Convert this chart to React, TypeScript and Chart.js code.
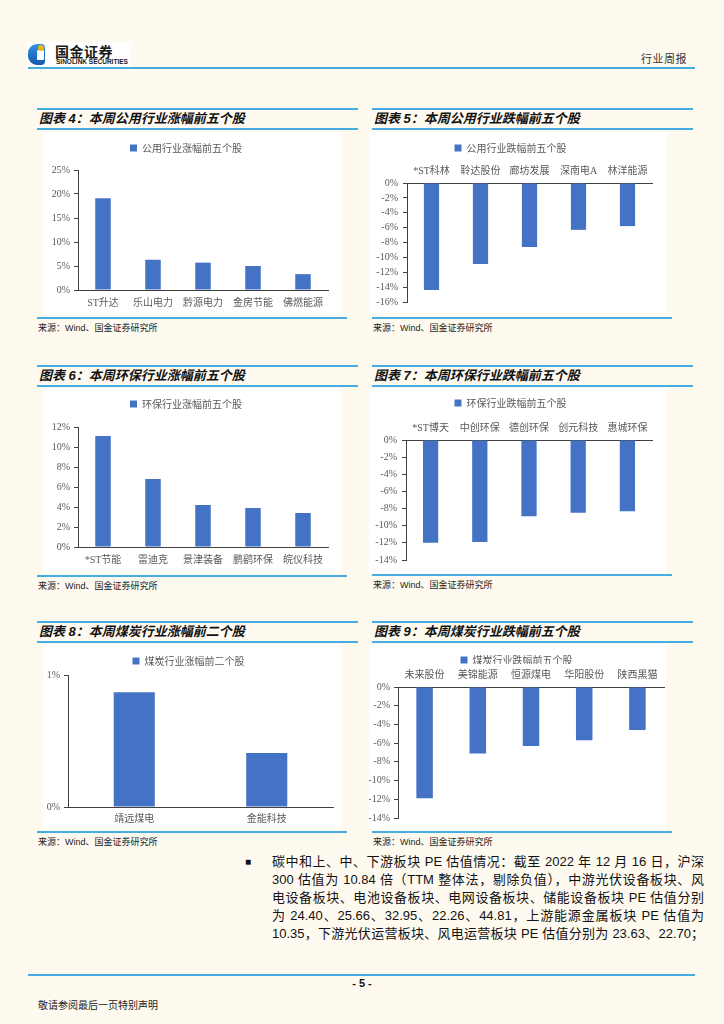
import React, { useEffect, useRef } from 'react';
import { Chart, registerables } from 'chart.js';

Chart.register(...registerables);

// ---------- data ----------
const utilUpLabels = ['ST升达', '乐山电力', '黔源电力', '金房节能', '佛燃能源'];
const utilUpValues = [19.1, 6.3, 5.7, 5.0, 3.3];
const utilDownLabels = ['*ST科林', '聆达股份', '廊坊发展', '深南电A', '林洋能源'];
const utilDownValues = [-14.4, -10.9, -8.6, -6.3, -5.8];
const envUpLabels = ['*ST节能', '雷迪克', '景津装备', '鹏鹞环保', '皖仪科技'];
const envUpValues = [11.1, 6.8, 4.2, 3.9, 3.4];
const envDownLabels = ['*ST博天', '中创环保', '德创环保', '创元科技', '惠城环保'];
const envDownValues = [-12.0, -11.9, -8.9, -8.5, -8.3];
const coalUpLabels = ['靖远煤电', '金能科技'];
const coalUpValues = [0.87, 0.41];
const coalDownLabels = ['未来股份', '美锦能源', '恒源煤电', '华阳股份', '陕西黑猫'];
const coalDownValues = [-11.9, -7.1, -6.3, -5.7, -4.6];

const bodyLines = [
  '碳中和上、中、下游板块 PE 估值情况：截至 2022 年 12 月 16 日，沪深',
  '300 估值为 10.84 倍（TTM 整体法，剔除负值），中游光伏设备板块、风',
  '电设备板块、电池设备板块、电网设备板块、储能设备板块 PE 估值分别',
  '为 24.40、25.66、32.95、22.26、44.81，上游能源金属板块 PE 估值为',
  '10.35，下游光伏运营板块、风电运营板块 PE 估值分别为 23.63、22.70；',
];

// ---------- styles ----------
const BG = '#fffaf0';
const LINE = '#45ade2';
const BAR = '#4472C4';
const AXIS = '#404040';
const TXT = '#595959';
const CJK = "'Noto Sans CJK SC', sans-serif";
const SERIF_CJK = "'Liberation Serif', 'Noto Sans CJK SC', serif";
const SANS_CJK = "'Liberation Sans', 'Noto Sans CJK SC', sans-serif";

type BarProps = {
  labels: string[];
  values: number[];
  legend: string;
  min: number;
  max: number;
  step: number;
  top: boolean;
  box: [number, number, number, number];
  yW: number;
  legendH: number;
  legendPad: number;
  xH: number;
  padR: number;
  padB: number;
  yPad: number;
  xPad: number;
};

function BarChart(p: BarProps) {
  const ref = useRef<HTMLCanvasElement>(null);
  const [left, top, w, h] = p.box;
  useEffect(() => {
    const el = ref.current;
    if (!el) return;
    const lh = p.legendH;
    const chart = new Chart(el, {
      type: 'bar',
      data: {
        labels: p.labels,
        datasets: [
          {
            label: p.legend,
            data: p.values,
            backgroundColor: BAR,
            barPercentage: 0.31,
            categoryPercentage: 1,
          },
        ],
      },
      options: {
        animation: false,
        responsive: false,
        maintainAspectRatio: false,
        layout: { padding: { top: 0, left: 0, right: p.padR, bottom: p.padB } },
        plugins: {
          legend: {
            position: 'top',
            labels: {
              boxWidth: 7,
              boxHeight: 7,
              padding: p.legendPad,
              color: TXT,
              font: { family: CJK, size: 10 },
            },
          },
          tooltip: { enabled: false },
        },
        scales: {
          x: {
            position: p.top ? 'top' : 'bottom',
            grid: { display: false, drawTicks: false, tickLength: 0 },
            border: { display: true, color: AXIS, width: 1 },
            ticks: {
              color: TXT,
              font: { family: SERIF_CJK, size: 10 },
              padding: p.xPad,
              maxRotation: 0,
              autoSkip: false,
            },
            afterFit: (s: any) => {
              s.height = p.xH;
            },
          },
          y: {
            min: p.min,
            max: p.max,
            ticks: {
              stepSize: p.step,
              autoSkip: false,
              color: TXT,
              font: { family: SERIF_CJK, size: 10 },
              padding: p.yPad,
              callback: (v: any) => `${v}%`,
            },
            grid: {
              display: true,
              drawOnChartArea: false,
              drawTicks: true,
              tickLength: 4,
              color: AXIS,
            },
            border: { display: true, color: AXIS, width: 1 },
            afterFit: (s: any) => {
              s.width = p.yW;
            },
          },
        },
      } as any,
      plugins: [
        {
          id: 'legendHeight',
          afterInit(c: any) {
            const leg = c.legend;
            if (!leg) return;
            const f = leg.fit;
            leg.fit = function () {
              f.call(this);
              this.height = lh;
            };
          },
        },
      ],
    });
    return () => chart.destroy();
  }, []);
  return (
    <canvas
      ref={ref}
      width={w}
      height={h}
      style={{ position: 'absolute', left, top, width: w, height: h, background: '#ffffff' }}
    />
  );
}

function HLine({ x1, x2, y }: { x1: number; x2: number; y: number }) {
  return (
    <div
      style={{ position: 'absolute', left: x1, top: y - 0.75, width: x2 - x1, height: 1.5, background: LINE }}
    />
  );
}

function Panel({
  x1,
  x2,
  x3,
  rowTop,
  bottomY,
  title,
}: {
  x1: number;
  x2: number;
  x3: number;
  rowTop: number;
  bottomY: number;
  title: string;
}) {
  return (
    <>
      <HLine x1={x1} x2={x2} y={rowTop} />
      <div
        style={{
          position: 'absolute',
          left: x1 + 2,
          top: rowTop + 1,
          height: 18,
          lineHeight: '18px',
          fontFamily: SANS_CJK,
          fontWeight: 'bold',
          fontStyle: 'italic',
          fontSize: 13,
          color: '#111',
          whiteSpace: 'nowrap',
        }}
      >
        {title}
      </div>
      <HLine x1={x1} x2={x2} y={rowTop + 20} />
      <HLine x1={x1} x2={x3} y={bottomY} />
      <div
        style={{
          position: 'absolute',
          left: x1 + 1,
          top: bottomY + 3,
          height: 14,
          lineHeight: '14px',
          fontFamily: SANS_CJK,
          fontSize: 9,
          color: '#222',
          whiteSpace: 'nowrap',
        }}
      >
        来源：Wind、国金证券研究所
      </div>
    </>
  );
}

export default function App() {
  useEffect(() => {
    document.body.style.margin = '0';
    document.body.style.background = BG;
  }, []);
  return (
    <div
      style={{
        position: 'absolute',
        left: 0,
        top: 0,
        width: 724,
        height: 1024,
        background: BG,
        overflow: 'hidden',
      }}
    >
      {/* header */}
      <div style={{ position: 'absolute', left: 27, top: 42, width: 104, height: 25, background: '#ffffff' }} />
      <div
        style={{
          position: 'absolute',
          left: 28,
          top: 44,
          width: 17,
          height: 21,
          borderRadius: '9px 4px 4px 9px',
          background: 'linear-gradient(180deg, #2f93e4, #1758ae)',
        }}
      />
      <div style={{ position: 'absolute', left: 37, top: 50, width: 7, height: 10, background: '#ffffff', borderRadius: 1 }} />
      <div style={{ position: 'absolute', left: 38, top: 45, width: 6, height: 6, borderRadius: 3, background: '#f2b705' }} />
      <div
        style={{
          position: 'absolute',
          left: 55,
          top: 42,
          fontFamily: CJK,
          fontWeight: 'bold',
          fontSize: 14,
          lineHeight: '18px',
          letterSpacing: 0.5,
          color: '#1a1a1a',
          whiteSpace: 'nowrap',
        }}
      >
        国金证券
      </div>
      <div
        style={{
          position: 'absolute',
          left: 56,
          top: 58,
          fontFamily: "'Liberation Sans', sans-serif",
          fontWeight: 'bold',
          fontSize: 6.5,
          lineHeight: '7px',
          color: '#1a1a1a',
          whiteSpace: 'nowrap',
          letterSpacing: 0,
        }}
      >
        SINOLINK SECURITIES
      </div>
      <div
        style={{
          position: 'absolute',
          left: 641,
          top: 52,
          fontFamily: CJK,
          fontSize: 11,
          lineHeight: '13px',
          letterSpacing: 0.5,
          color: '#333',
          whiteSpace: 'nowrap',
        }}
      >
        行业周报
      </div>
      <HLine x1={28} x2={695} y={68} />

      {/* panels */}
      <Panel x1={37} x2={358} x3={347} rowTop={109} bottomY={318} title="图表 4：本周公用行业涨幅前五个股" />
      <Panel x1={372} x2={693} x3={672} rowTop={109} bottomY={318} title="图表 5：本周公用行业跌幅前五个股" />
      <Panel x1={37} x2={358} x3={347} rowTop={366} bottomY={576} title="图表 6：本周环保行业涨幅前五个股" />
      <Panel x1={372} x2={693} x3={672} rowTop={366} bottomY={575} title="图表 7：本周环保行业跌幅前五个股" />
      <Panel x1={37} x2={358} x3={347} rowTop={622} bottomY={832} title="图表 8：本周煤炭行业涨幅前二个股" />
      <Panel x1={372} x2={693} x3={672} rowTop={622} bottomY={832} title="图表 9：本周煤炭行业跌幅前五个股" />

      <BarChart
        labels={utilUpLabels}
        values={utilUpValues}
        legend="公用行业涨幅前五个股"
        min={0}
        max={25}
        step={5}
        top={false}
        box={[44, 132, 298, 183]}
        yW={34}
        legendH={38}
        legendPad={11}
        xH={25}
        padR={14}
        padB={0}
        yPad={4}
        xPad={7}
      />
      <BarChart
        labels={utilDownLabels}
        values={utilDownValues}
        legend="公用行业跌幅前五个股"
        min={-16}
        max={0}
        step={2}
        top={true}
        box={[369, 132, 298, 181]}
        yW={38}
        legendH={28}
        legendPad={11}
        xH={23}
        padR={15}
        padB={9}
        yPad={5}
        xPad={6}
      />
      <BarChart
        labels={envUpLabels}
        values={envUpValues}
        legend="环保行业涨幅前五个股"
        min={0}
        max={12}
        step={2}
        top={false}
        box={[44, 388, 298, 184]}
        yW={34}
        legendH={39}
        legendPad={11}
        xH={25}
        padR={14}
        padB={0}
        yPad={4}
        xPad={7}
      />
      <BarChart
        labels={envDownLabels}
        values={envDownValues}
        legend="环保行业跌幅前五个股"
        min={-14}
        max={0}
        step={2}
        top={true}
        box={[369, 388, 297, 185]}
        yW={37}
        legendH={28}
        legendPad={10}
        xH={24}
        padR={14}
        padB={13}
        yPad={5}
        xPad={6}
      />
      <BarChart
        labels={coalUpLabels}
        values={coalUpValues}
        legend="煤炭行业涨幅前二个股"
        min={0}
        max={1}
        step={1}
        top={false}
        box={[44, 644, 298, 184]}
        yW={24}
        legendH={31}
        legendPad={12}
        xH={21}
        padR={9}
        padB={0}
        yPad={4}
        xPad={6}
      />
      <BarChart
        labels={coalDownLabels}
        values={coalDownValues}
        legend="煤炭行业跌幅前五个股"
        min={-14}
        max={0}
        step={2}
        top={true}
        box={[369, 644, 297, 185]}
        yW={29}
        legendH={20}
        legendPad={11}
        xH={23}
        padR={2}
        padB={11}
        yPad={4}
        xPad={6}
      />

      {/* body text */}
      <div
        style={{
          position: 'absolute',
          left: 245,
          top: 855,
          fontSize: 10,
          lineHeight: '14px',
          fontFamily: SANS_CJK,
          color: '#111',
        }}
      >
        ■
      </div>
      {bodyLines.map((t, i) => (
        <div
          key={i}
          style={{
            position: 'absolute',
            left: 272,
            top: 853 + i * 18,
            width: 432,
            height: 18,
            lineHeight: '18px',
            fontSize: 13,
            fontFamily: SANS_CJK,
            color: '#111',
            textAlign: 'justify',
            textAlignLast: 'justify',
            overflow: 'visible',
          }}
        >
          {t}
        </div>
      ))}

      {/* footer */}
      <HLine x1={28} x2={695} y={975} />
      <div
        style={{
          position: 'absolute',
          left: 332,
          width: 60,
          top: 977,
          textAlign: 'center',
          fontFamily: "'Liberation Sans', sans-serif",
          fontWeight: 'bold',
          fontSize: 11,
          lineHeight: '13px',
          color: '#111',
        }}
      >
        - 5 -
      </div>
      <div
        style={{
          position: 'absolute',
          left: 38,
          top: 998,
          fontFamily: CJK,
          fontSize: 10,
          lineHeight: '14px',
          color: '#222',
          whiteSpace: 'nowrap',
        }}
      >
        敬请参阅最后一页特别声明
      </div>
    </div>
  );
}
